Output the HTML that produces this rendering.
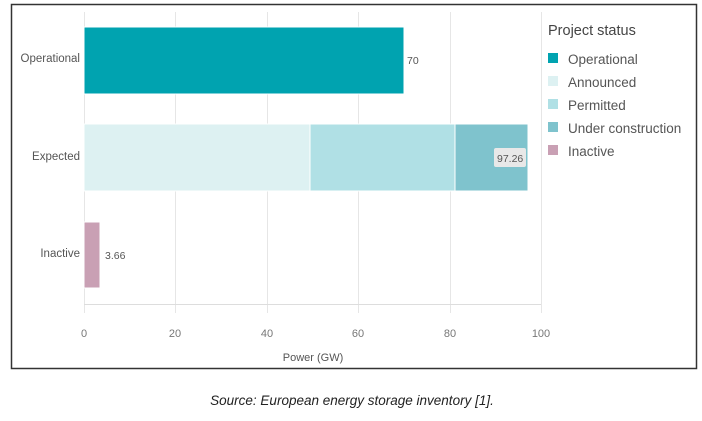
<!DOCTYPE html>
<html><head><style>
body{margin:0;width:702px;height:416px;background:#fff;overflow:hidden;font-family:"Liberation Sans",sans-serif}
</style></head><body>
<svg width="702" height="416" xmlns="http://www.w3.org/2000/svg" font-family="Liberation Sans, sans-serif">
<rect x="11.5" y="4.5" width="685" height="364" fill="#fff" stroke="#333" stroke-width="1.5"/>
<g stroke="#e6e6e6" stroke-width="1">
<line x1="84.5" y1="12" x2="84.5" y2="313"/>
<line x1="175.5" y1="12" x2="175.5" y2="313"/>
<line x1="267.5" y1="12" x2="267.5" y2="313"/>
<line x1="358.5" y1="12" x2="358.5" y2="313"/>
<line x1="450.5" y1="12" x2="450.5" y2="313"/>
<line x1="541.5" y1="12" x2="541.5" y2="313"/>
<line x1="84" y1="304.5" x2="541" y2="304.5" stroke="#ddd"/>
</g>
<rect x="84" y="27" width="320" height="67" fill="#00a3b0" stroke="#fff"/>
<rect x="84" y="124" width="226" height="67" fill="#ddf1f2" stroke="#fff"/>
<rect x="310" y="124" width="145" height="67" fill="#b0e0e5" stroke="#fff"/>
<rect x="455" y="124" width="73" height="67" fill="#7fc3cd" stroke="#fff"/>
<rect x="84" y="222" width="16" height="66" fill="#c9a0b4" stroke="#fff"/>
<rect x="494" y="148" width="32" height="19" rx="2" fill="#e8e8e8"/>
<g font-size="10.5" fill="#555">
<text x="407" y="64">70</text>
<text x="497" y="162">97.26</text>
<text x="105" y="259">3.66</text>
</g>
<g font-size="11.5" fill="#555" text-anchor="end">
<text x="80" y="62">Operational</text>
<text x="80" y="160">Expected</text>
<text x="80" y="257">Inactive</text>
</g>
<g font-size="11" fill="#777" text-anchor="middle">
<text x="84" y="337">0</text>
<text x="175" y="337">20</text>
<text x="267" y="337">40</text>
<text x="358" y="337">60</text>
<text x="450" y="337">80</text>
<text x="541" y="337">100</text>
</g>
<text x="313" y="361" font-size="11" fill="#555" text-anchor="middle">Power (GW)</text>
<text x="548" y="35" font-size="14.5" fill="#444">Project status</text>
<g font-size="13.5" fill="#555">
<rect x="548" y="53" width="10" height="10" fill="#00a3b0"/><text x="568" y="64">Operational</text>
<rect x="548" y="76" width="10" height="10" fill="#ddf1f2"/><text x="568" y="87">Announced</text>
<rect x="548" y="99" width="10" height="10" fill="#b0e0e5"/><text x="568" y="110">Permitted</text>
<rect x="548" y="122" width="10" height="10" fill="#7fc3cd"/><text x="568" y="133">Under construction</text>
<rect x="548" y="145" width="10" height="10" fill="#c9a0b4"/><text x="568" y="156">Inactive</text>
</g>
<text x="352" y="405" font-size="13.5" font-style="italic" fill="#222" text-anchor="middle">Source: European energy storage inventory [1].</text>
</svg>
</body></html>
